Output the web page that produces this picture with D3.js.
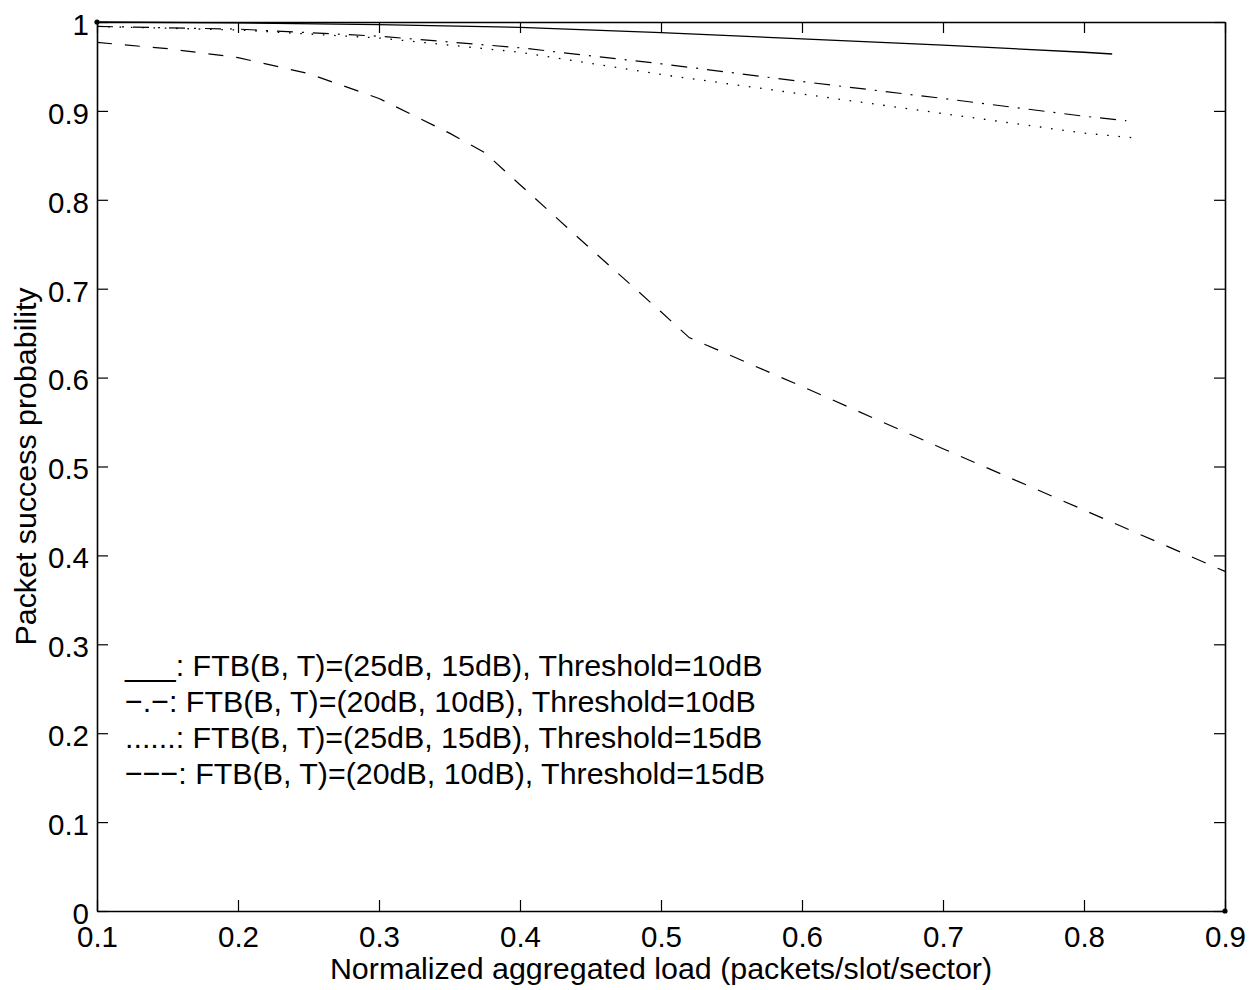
<!DOCTYPE html>
<html>
<head>
<meta charset="utf-8">
<script src="https://cdn.jsdelivr.net/npm/d3@7"></script>
<style>
  body { margin: 0; background: #fff; }
  text { font-family: "Liberation Sans", Arial, Helvetica, sans-serif; fill: #000; }
</style>
</head>
<body>
<svg id="chart"></svg>
<script>
// load values (packets/slot/sector) and success probability
var loadSolid = [0.1, 0.2, 0.3, 0.4, 0.5, 0.6, 0.7, 0.8, 0.82];
var probSolid = [1.0, 0.999, 0.997, 0.994, 0.988, 0.981, 0.974, 0.966, 0.964];

var loadDashDot = [0.1, 0.2, 0.3, 0.4, 0.5, 0.6, 0.7, 0.8, 0.83];
var probDashDot = [0.995, 0.992, 0.984, 0.971, 0.953, 0.933, 0.914, 0.894, 0.889];

var loadDotted = [0.1, 0.2, 0.3, 0.4, 0.5, 0.6, 0.7, 0.8, 0.84];
var probDotted = [0.995, 0.991, 0.982, 0.966, 0.941, 0.919, 0.897, 0.875, 0.869];

var loadDashed = [0.1, 0.15, 0.2, 0.25, 0.3, 0.35, 0.375, 0.4, 0.45, 0.5, 0.52, 0.6, 0.7, 0.8, 0.9];
var probDashed = [0.977, 0.970, 0.960, 0.942, 0.914, 0.875, 0.853, 0.817, 0.745, 0.674, 0.645, 0.590, 0.520, 0.451, 0.382];

// two single points sitting on the corners of the box
var cornerLoad = [0.1, 0.9];
var cornerProb = [1.0, 0.0];

var xTicks = [0.1, 0.2, 0.3, 0.4, 0.5, 0.6, 0.7, 0.8, 0.9];
var xTickLabels = ['0.1', '0.2', '0.3', '0.4', '0.5', '0.6', '0.7', '0.8', '0.9'];
var yTicks = [0, 0.1, 0.2, 0.3, 0.4, 0.5, 0.6, 0.7, 0.8, 0.9, 1];
var yTickLabels = ['0', '0.1', '0.2', '0.3', '0.4', '0.5', '0.6', '0.7', '0.8', '0.9', '1'];

var legendLabels = [
  '___: FTB(B, T)=(25dB, 15dB), Threshold=10dB',
  '\u2212.\u2212: FTB(B, T)=(20dB, 10dB), Threshold=10dB',
  '......: FTB(B, T)=(25dB, 15dB), Threshold=15dB',
  '\u2212\u2212\u2212: FTB(B, T)=(20dB, 10dB), Threshold=15dB'
];

var xTitle = 'Normalized aggregated load (packets/slot/sector)';
var yTitle = 'Packet success probability';

var svgWidth = 1251, svgHeight = 990;
var plotLeft = 97, plotRight = 1225, plotTop = 22, plotBottom = 911;
var tickFont = 29.5, textFont = 30.4;

var svg = d3.select('#chart')
  .attr('width', svgWidth)
  .attr('height', svgHeight);

var x = d3.scaleLinear().domain([0.1, 0.9]).range([plotLeft, plotRight]);
var y = d3.scaleLinear().domain([0, 1]).range([plotBottom, plotTop]);

function fmt(list, ticks) {
  return function (d) { return list[ticks.indexOf(d)]; };
}

// axes, ticks pointing inward on all four sides
svg.append('g')
  .attr('transform', 'translate(0,' + plotBottom + ')')
  .call(d3.axisBottom(x).tickValues(xTicks).tickFormat(fmt(xTickLabels, xTicks))
    .tickSizeInner(-11).tickSizeOuter(0).tickPadding(15));

svg.append('g')
  .attr('transform', 'translate(0,' + plotTop + ')')
  .call(d3.axisTop(x).tickValues(xTicks).tickFormat('')
    .tickSizeInner(-11).tickSizeOuter(0));

var yAxis = svg.append('g')
  .attr('transform', 'translate(' + plotLeft + ',0)')
  .call(d3.axisLeft(y).tickValues(yTicks).tickFormat(fmt(yTickLabels, yTicks))
    .tickSizeInner(-11).tickSizeOuter(0).tickPadding(8));

svg.append('g')
  .attr('transform', 'translate(' + plotRight + ',0)')
  .call(d3.axisRight(y).tickValues(yTicks).tickFormat('')
    .tickSizeInner(-11).tickSizeOuter(0));

svg.selectAll('.domain').style('stroke', '#000').style('stroke-width', 1.6);
svg.selectAll('.tick line').style('stroke', '#000').style('stroke-width', 1.2);
svg.selectAll('.tick text')
  .style('font-size', tickFont + 'px')
  .style('font-family', '"Liberation Sans", Arial, sans-serif')
  .style('fill', '#000');
yAxis.selectAll('.tick text').attr('dy', '0.42em');

// the curves
var line = d3.line()
  .x(function (d) { return x(d[0]); })
  .y(function (d) { return y(d[1]); });

var series = [
  { load: loadSolid, prob: probSolid, dash: null, width: 1.3 },
  { load: loadDashDot, prob: probDashDot, dash: '16,9,2,9', width: 1.2 },
  { load: loadDotted, prob: probDotted, dash: '1.6,9.7', width: 1.3 },
  { load: loadDashed, prob: probDashed, dash: '15,13', width: 1.2 }
];

svg.append('g').attr('class', 'curves')
  .selectAll('path')
  .data(series)
  .enter()
  .append('path')
  .attr('d', function (s) { return line(d3.zip(s.load, s.prob)); })
  .style('fill', 'none')
  .style('stroke', '#000')
  .style('stroke-width', function (s) { return s.width; })
  .style('stroke-dasharray', function (s) { return s.dash; });

svg.append('g').attr('class', 'corners')
  .selectAll('circle')
  .data(d3.zip(cornerLoad, cornerProb))
  .enter()
  .append('circle')
  .attr('cx', function (d) { return x(d[0]); })
  .attr('cy', function (d) { return y(d[1]); })
  .attr('r', 2.6)
  .style('fill', '#000');

// legend written as plain text lines
svg.append('g').attr('class', 'legend')
  .selectAll('text')
  .data(legendLabels)
  .enter()
  .append('text')
  .attr('x', 125)
  .attr('y', function (d, i) { return 676 + i * 36; })
  .style('font-size', textFont + 'px')
  .text(function (d) { return d; });

svg.append('text')
  .attr('x', (plotLeft + plotRight) / 2)
  .attr('y', 979)
  .attr('text-anchor', 'middle')
  .style('font-size', textFont + 'px')
  .text(xTitle);

svg.append('text')
  .attr('transform', 'translate(36,' + (plotTop + plotBottom) / 2 + ')rotate(-90)')
  .attr('text-anchor', 'middle')
  .style('font-size', textFont + 'px')
  .text(yTitle);
</script>
</body>
</html>
